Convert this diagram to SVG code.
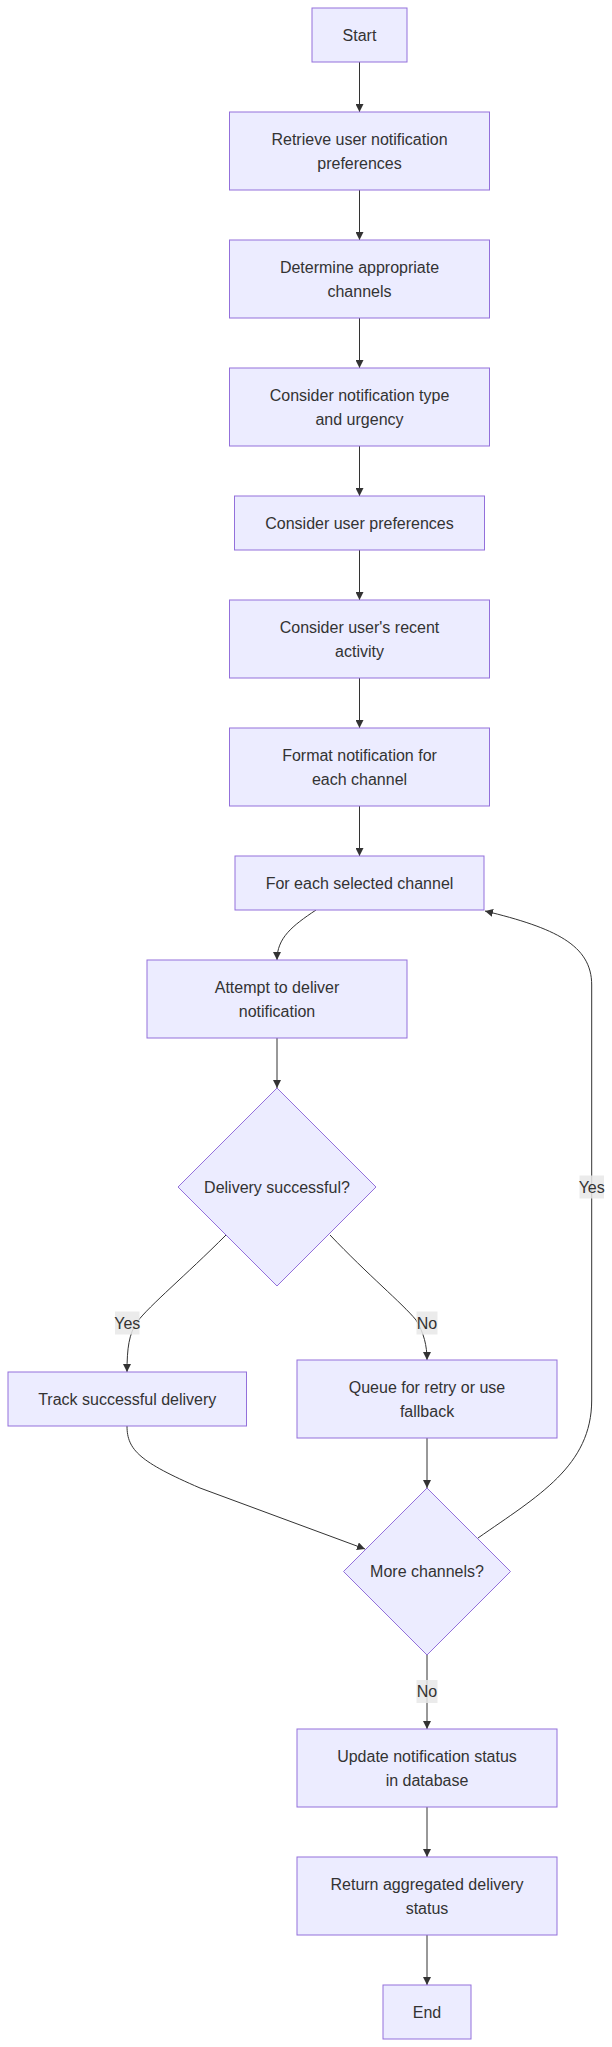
<svg xmlns="http://www.w3.org/2000/svg" width="612" height="2047" viewBox="0 0 612 2047">
<style>
.node rect, .node polygon { fill: #ECECFF; stroke: #9370DB; stroke-width: 1px; }
.node text, .lbl text { font-family: "Liberation Sans", Arial, sans-serif; font-size: 16px; fill: #333333; text-anchor: middle; dominant-baseline: central; }
.edges path { fill: none; stroke: #333333; stroke-width: 1px; marker-end: url(#arrow); }
.lbl rect { fill: #e8e8e8; fill-opacity: 0.85; }
</style>
<defs>
<marker id="arrow" viewBox="0 0 10 10" refX="10" refY="5" markerUnits="userSpaceOnUse" markerWidth="8" markerHeight="8" orient="auto">
<path d="M0,0 L10,5 L0,10 z" fill="#333333"/>
</marker>
</defs>
<rect width="612" height="2047" fill="#ffffff"/>
<g id="edges" class="edges">
<path d="M359.5,62 L359.5,112"/>
<path d="M359.5,190 L359.5,240"/>
<path d="M359.5,318 L359.5,368"/>
<path d="M359.5,446 L359.5,496"/>
<path d="M359.5,550 L359.5,600"/>
<path d="M359.5,678 L359.5,728"/>
<path d="M359.5,806 L359.5,856"/>
<path d="M316,910 C292,926 277,938 277,960"/>
<path d="M277,1038 L277,1088"/>
<path d="M226,1235 C185,1276 150,1305 137,1322 C129,1334 127,1348 127,1372"/>
<path d="M330,1235 C368,1275 402,1303 416,1320 C424,1333 427,1346 427,1360"/>
<path d="M127,1426 C127,1450 140,1462 200,1488 L365,1549"/>
<path d="M427,1438 L427,1488"/>
<path d="M478,1538 C538,1496 591.7,1466 591.7,1400 L591.7,985 C591.7,945 555,928 485,911"/>
<path d="M427,1655 L427,1729"/>
<path d="M427,1807 L427,1857"/>
<path d="M427,1935 L427,1985"/>
</g>
<g id="edge-labels">
<g class="lbl"><rect x="115" y="1311.5" width="24.5" height="23"/><text x="127.3" y="1323">Yes</text></g>
<g class="lbl"><rect x="416.5" y="1311.5" width="21" height="23"/><text x="427" y="1323">No</text></g>
<g class="lbl"><rect x="579.5" y="1175.5" width="24.5" height="23"/><text x="591.7" y="1187">Yes</text></g>
<g class="lbl"><rect x="416.5" y="1680" width="21" height="23"/><text x="427" y="1691.5">No</text></g>
</g>
<g id="start" class="node"><rect x="312" y="8" width="95" height="54"/><text x="359.5" y="35">Start</text></g>
<g id="retrieve" class="node"><rect x="229.5" y="112" width="260" height="78"/><text x="359.5" y="139">Retrieve user notification</text><text x="359.5" y="163">preferences</text></g>
<g id="determine" class="node"><rect x="229.5" y="240" width="260" height="78"/><text x="359.5" y="267">Determine appropriate</text><text x="359.5" y="291">channels</text></g>
<g id="consider-type" class="node"><rect x="229.5" y="368" width="260" height="78"/><text x="359.5" y="395">Consider notification type</text><text x="359.5" y="419">and urgency</text></g>
<g id="consider-prefs" class="node"><rect x="234.5" y="496" width="250" height="54"/><text x="359.5" y="523">Consider user preferences</text></g>
<g id="consider-activity" class="node"><rect x="229.5" y="600" width="260" height="78"/><text x="359.5" y="627">Consider user's recent</text><text x="359.5" y="651">activity</text></g>
<g id="format" class="node"><rect x="229.5" y="728" width="260" height="78"/><text x="359.5" y="755">Format notification for</text><text x="359.5" y="779">each channel</text></g>
<g id="for-each" class="node"><rect x="235" y="856" width="249" height="54"/><text x="359.5" y="883">For each selected channel</text></g>
<g id="attempt" class="node"><rect x="147" y="960" width="260" height="78"/><text x="277" y="987">Attempt to deliver</text><text x="277" y="1011">notification</text></g>
<g id="delivery-ok" class="node"><polygon points="277,1088 376,1187 277,1286 178,1187"/><text x="277" y="1187">Delivery successful?</text></g>
<g id="track" class="node"><rect x="8" y="1372" width="238.5" height="54"/><text x="127.25" y="1399">Track successful delivery</text></g>
<g id="queue" class="node"><rect x="297" y="1360" width="260" height="78"/><text x="427" y="1387">Queue for retry or use</text><text x="427" y="1411">fallback</text></g>
<g id="more" class="node"><polygon points="427,1488 510.5,1571.5 427,1655 343.5,1571.5"/><text x="427" y="1571.5">More channels?</text></g>
<g id="update" class="node"><rect x="297" y="1729" width="260" height="78"/><text x="427" y="1756">Update notification status</text><text x="427" y="1780">in database</text></g>
<g id="return" class="node"><rect x="297" y="1857" width="260" height="78"/><text x="427" y="1884">Return aggregated delivery</text><text x="427" y="1908">status</text></g>
<g id="end" class="node"><rect x="383" y="1985" width="88" height="54"/><text x="427" y="2012">End</text></g>
</svg>
